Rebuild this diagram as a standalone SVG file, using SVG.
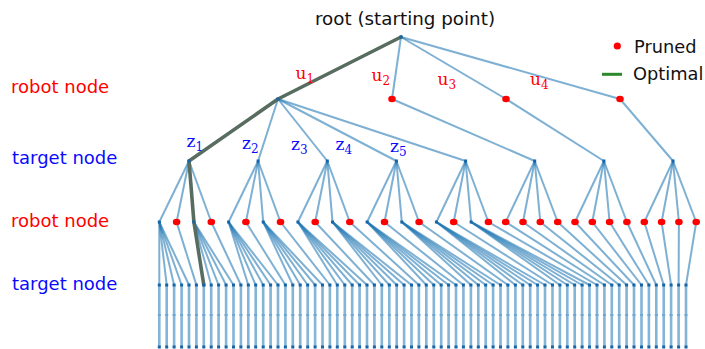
<svg xmlns="http://www.w3.org/2000/svg" xmlns:xlink="http://www.w3.org/1999/xlink" width="705" height="349" viewBox="0 0 705 349">
<style>
.e{stroke:#1f77b4;stroke-opacity:0.58;stroke-width:2;fill:none}
.v{stroke:#1f77b4;stroke-opacity:0.55;stroke-width:2.6;fill:none}
.opt{stroke:#586d60;stroke-width:3.6;fill:none;stroke-linejoin:round;stroke-linecap:round}
.lbl{font-family:"DejaVu Sans","Verdana",sans-serif;font-size:18px}
.math{font-family:"DejaVu Serif","Liberation Serif",serif;font-size:17px}
.sub{font-size:12px}
.red{fill:#ff0000}
.blue{fill:#0a0aff}
</style>
<defs>
<rect id="nb" x="-1.5" y="-1.5" width="3" height="3" fill="#1565a8"/>
<rect id="nm" x="-1.5" y="-1" width="3" height="2" fill="#6ea6d4"/>
<ellipse id="np" rx="3.8" ry="3.3" fill="#ff0000"/>
<g id="col"><use xlink:href="#nb" y="285"/><use xlink:href="#nm" y="315"/><use xlink:href="#nb" y="347"/></g>
</defs>
<g id="connectors">
<path class="e" d="M401 37L278 99"/><path class="e" d="M401 37L392 99"/><path class="e" d="M401 37L506 99"/><path class="e" d="M401 37L620 99"/>
<path class="e" d="M278 99L189 161"/><path class="e" d="M278 99L258.1 161"/><path class="e" d="M278 99L327.3 161"/><path class="e" d="M278 99L396.4 161"/><path class="e" d="M278 99L465.6 161"/>
<path class="e" d="M392 99L534.7 161"/><path class="e" d="M506 99L603.9 161"/><path class="e" d="M620 99L673 161"/>
<path class="e" d="M189 161L159.3 222"/><path class="e" d="M189 161L176.6 222"/><path class="e" d="M189 161L193.9 222"/><path class="e" d="M189 161L211.3 222"/>
<path class="e" d="M258.1 161L228.6 222"/><path class="e" d="M258.1 161L245.9 222"/><path class="e" d="M258.1 161L263.2 222"/><path class="e" d="M258.1 161L280.5 222"/>
<path class="e" d="M327.3 161L297.9 222"/><path class="e" d="M327.3 161L315.2 222"/><path class="e" d="M327.3 161L332.5 222"/><path class="e" d="M327.3 161L349.8 222"/>
<path class="e" d="M396.4 161L367.1 222"/><path class="e" d="M396.4 161L384.5 222"/><path class="e" d="M396.4 161L401.8 222"/><path class="e" d="M396.4 161L419.1 222"/>
<path class="e" d="M465.6 161L436.4 222"/><path class="e" d="M465.6 161L453.7 222"/><path class="e" d="M465.6 161L471.1 222"/><path class="e" d="M465.6 161L488.4 222"/>
<path class="e" d="M534.7 161L505.7 222"/><path class="e" d="M534.7 161L523 222"/><path class="e" d="M534.7 161L540.3 222"/><path class="e" d="M534.7 161L557.7 222"/>
<path class="e" d="M603.9 161L575 222"/><path class="e" d="M603.9 161L592.3 222"/><path class="e" d="M603.9 161L609.6 222"/><path class="e" d="M603.9 161L626.9 222"/>
<path class="e" d="M673 161L644.3 222"/><path class="e" d="M673 161L661.6 222"/><path class="e" d="M673 161L678.9 222"/><path class="e" d="M673 161L696.2 222"/>
<path class="e" d="M159.3 222L159.3 285"/><path class="e" d="M159.3 222L166.7 285"/><path class="e" d="M159.3 222L174.1 285"/><path class="e" d="M159.3 222L181.6 285"/><path class="e" d="M159.3 222L189 285"/>
<path class="e" d="M176.6 222L196.4 285"/>
<path class="e" d="M193.9 222L203.8 285"/><path class="e" d="M193.9 222L211.2 285"/><path class="e" d="M193.9 222L218.6 285"/><path class="e" d="M193.9 222L226.1 285"/><path class="e" d="M193.9 222L233.5 285"/>
<path class="e" d="M211.3 222L240.9 285"/>
<path class="e" d="M228.6 222L248.3 285"/><path class="e" d="M228.6 222L255.7 285"/><path class="e" d="M228.6 222L263.2 285"/><path class="e" d="M228.6 222L270.6 285"/><path class="e" d="M228.6 222L278 285"/>
<path class="e" d="M245.9 222L285.4 285"/>
<path class="e" d="M263.2 222L292.8 285"/><path class="e" d="M263.2 222L300.2 285"/><path class="e" d="M263.2 222L307.7 285"/><path class="e" d="M263.2 222L315.1 285"/><path class="e" d="M263.2 222L322.5 285"/>
<path class="e" d="M280.5 222L329.9 285"/>
<path class="e" d="M297.9 222L337.3 285"/><path class="e" d="M297.9 222L344.8 285"/><path class="e" d="M297.9 222L352.2 285"/><path class="e" d="M297.9 222L359.6 285"/><path class="e" d="M297.9 222L367 285"/>
<path class="e" d="M315.2 222L374.4 285"/>
<path class="e" d="M332.5 222L381.8 285"/><path class="e" d="M332.5 222L389.3 285"/><path class="e" d="M332.5 222L396.7 285"/><path class="e" d="M332.5 222L404.1 285"/><path class="e" d="M332.5 222L411.5 285"/>
<path class="e" d="M349.8 222L418.9 285"/>
<path class="e" d="M367.1 222L426.3 285"/><path class="e" d="M367.1 222L433.8 285"/><path class="e" d="M367.1 222L441.2 285"/><path class="e" d="M367.1 222L448.6 285"/><path class="e" d="M367.1 222L456 285"/>
<path class="e" d="M384.5 222L463.4 285"/>
<path class="e" d="M401.8 222L470.9 285"/><path class="e" d="M401.8 222L478.3 285"/><path class="e" d="M401.8 222L485.7 285"/><path class="e" d="M401.8 222L493.1 285"/><path class="e" d="M401.8 222L500.5 285"/>
<path class="e" d="M419.1 222L507.9 285"/>
<path class="e" d="M436.4 222L515.4 285"/><path class="e" d="M436.4 222L522.8 285"/><path class="e" d="M436.4 222L530.2 285"/><path class="e" d="M436.4 222L537.6 285"/><path class="e" d="M436.4 222L545 285"/>
<path class="e" d="M453.7 222L552.5 285"/>
<path class="e" d="M471.1 222L559.9 285"/><path class="e" d="M471.1 222L567.3 285"/><path class="e" d="M471.1 222L574.7 285"/><path class="e" d="M471.1 222L582.1 285"/><path class="e" d="M471.1 222L589.5 285"/>
<path class="e" d="M488.4 222L597 285"/>
<path class="e" d="M505.7 222L604.4 285"/><path class="e" d="M523 222L611.8 285"/><path class="e" d="M540.3 222L619.2 285"/><path class="e" d="M557.7 222L626.6 285"/>
<path class="e" d="M575 222L634 285"/><path class="e" d="M592.3 222L641.5 285"/><path class="e" d="M609.6 222L648.9 285"/><path class="e" d="M626.9 222L656.3 285"/>
<path class="e" d="M644.3 222L663.7 285"/><path class="e" d="M661.6 222L671.1 285"/><path class="e" d="M678.9 222L678.6 285"/><path class="e" d="M696.2 222L686 285"/>
<path class="v" d="M159.3 285V347M166.7 285V347M174.1 285V347M181.6 285V347M189 285V347M196.4 285V347M203.8 285V347M211.2 285V347M218.6 285V347M226.1 285V347M233.5 285V347M240.9 285V347M248.3 285V347M255.7 285V347M263.2 285V347M270.6 285V347M278 285V347M285.4 285V347M292.8 285V347M300.2 285V347M307.7 285V347M315.1 285V347M322.5 285V347M329.9 285V347M337.3 285V347M344.8 285V347M352.2 285V347M359.6 285V347M367 285V347M374.4 285V347M381.8 285V347M389.3 285V347M396.7 285V347M404.1 285V347M411.5 285V347M418.9 285V347M426.3 285V347M433.8 285V347M441.2 285V347M448.6 285V347M456 285V347M463.4 285V347M470.9 285V347M478.3 285V347M485.7 285V347M493.1 285V347M500.5 285V347M507.9 285V347M515.4 285V347M522.8 285V347M530.2 285V347M537.6 285V347M545 285V347M552.5 285V347M559.9 285V347M567.3 285V347M574.7 285V347M582.1 285V347M589.5 285V347M597 285V347M604.4 285V347M611.8 285V347M619.2 285V347M626.6 285V347M634 285V347M641.5 285V347M648.9 285V347M656.3 285V347M663.7 285V347M671.1 285V347M678.6 285V347M686 285V347"/>
<polyline id="optimal-path" class="opt" points="401,37 278,99 189,161 193.9,222 203.8,285"/>
</g>
<g id="nodes">
<g id="root"><use xlink:href="#nb" x="401" y="37"/></g>
<g id="u1"><use xlink:href="#nb" x="278" y="99"/></g>
<g id="u2"><use xlink:href="#np" x="392" y="99"/></g>
<g id="u3"><use xlink:href="#np" x="506" y="99"/></g>
<g id="u4"><use xlink:href="#np" x="620" y="99"/></g>
<g id="z1"><use xlink:href="#nb" x="189" y="161"/></g>
<g id="z2"><use xlink:href="#nb" x="258.1" y="161"/></g>
<g id="z3"><use xlink:href="#nb" x="327.3" y="161"/></g>
<g id="z4"><use xlink:href="#nb" x="396.4" y="161"/></g>
<g id="z5"><use xlink:href="#nb" x="465.6" y="161"/></g>
<g id="z6"><use xlink:href="#nb" x="534.7" y="161"/></g>
<g id="z7"><use xlink:href="#nb" x="603.9" y="161"/></g>
<g id="z8"><use xlink:href="#nb" x="673" y="161"/></g>
<g id="r0"><use xlink:href="#nb" x="159.3" y="222"/></g>
<g id="r1"><use xlink:href="#np" x="176.6" y="222"/></g>
<g id="r2"><use xlink:href="#nb" x="193.9" y="222"/></g>
<g id="r3"><use xlink:href="#np" x="211.3" y="222"/></g>
<g id="r4"><use xlink:href="#nb" x="228.6" y="222"/></g>
<g id="r5"><use xlink:href="#np" x="245.9" y="222"/></g>
<g id="r6"><use xlink:href="#nb" x="263.2" y="222"/></g>
<g id="r7"><use xlink:href="#np" x="280.5" y="222"/></g>
<g id="r8"><use xlink:href="#nb" x="297.9" y="222"/></g>
<g id="r9"><use xlink:href="#np" x="315.2" y="222"/></g>
<g id="r10"><use xlink:href="#nb" x="332.5" y="222"/></g>
<g id="r11"><use xlink:href="#np" x="349.8" y="222"/></g>
<g id="r12"><use xlink:href="#nb" x="367.1" y="222"/></g>
<g id="r13"><use xlink:href="#np" x="384.5" y="222"/></g>
<g id="r14"><use xlink:href="#nb" x="401.8" y="222"/></g>
<g id="r15"><use xlink:href="#np" x="419.1" y="222"/></g>
<g id="r16"><use xlink:href="#nb" x="436.4" y="222"/></g>
<g id="r17"><use xlink:href="#np" x="453.7" y="222"/></g>
<g id="r18"><use xlink:href="#nb" x="471.1" y="222"/></g>
<g id="r19"><use xlink:href="#np" x="488.4" y="222"/></g>
<g id="r20"><use xlink:href="#np" x="505.7" y="222"/></g>
<g id="r21"><use xlink:href="#np" x="523" y="222"/></g>
<g id="r22"><use xlink:href="#np" x="540.3" y="222"/></g>
<g id="r23"><use xlink:href="#np" x="557.7" y="222"/></g>
<g id="r24"><use xlink:href="#np" x="575" y="222"/></g>
<g id="r25"><use xlink:href="#np" x="592.3" y="222"/></g>
<g id="r26"><use xlink:href="#np" x="609.6" y="222"/></g>
<g id="r27"><use xlink:href="#np" x="626.9" y="222"/></g>
<g id="r28"><use xlink:href="#np" x="644.3" y="222"/></g>
<g id="r29"><use xlink:href="#np" x="661.6" y="222"/></g>
<g id="r30"><use xlink:href="#np" x="678.9" y="222"/></g>
<g id="r31"><use xlink:href="#np" x="696.2" y="222"/></g>
<g id="leaves">
<use id="t0" xlink:href="#col" x="159.3"/><use id="t1" xlink:href="#col" x="166.7"/><use id="t2" xlink:href="#col" x="174.1"/><use id="t3" xlink:href="#col" x="181.6"/><use id="t4" xlink:href="#col" x="189"/><use id="t5" xlink:href="#col" x="196.4"/><use id="t6" xlink:href="#col" x="203.8"/><use id="t7" xlink:href="#col" x="211.2"/><use id="t8" xlink:href="#col" x="218.6"/><use id="t9" xlink:href="#col" x="226.1"/><use id="t10" xlink:href="#col" x="233.5"/><use id="t11" xlink:href="#col" x="240.9"/>
<use id="t12" xlink:href="#col" x="248.3"/><use id="t13" xlink:href="#col" x="255.7"/><use id="t14" xlink:href="#col" x="263.2"/><use id="t15" xlink:href="#col" x="270.6"/><use id="t16" xlink:href="#col" x="278"/><use id="t17" xlink:href="#col" x="285.4"/><use id="t18" xlink:href="#col" x="292.8"/><use id="t19" xlink:href="#col" x="300.2"/><use id="t20" xlink:href="#col" x="307.7"/><use id="t21" xlink:href="#col" x="315.1"/><use id="t22" xlink:href="#col" x="322.5"/><use id="t23" xlink:href="#col" x="329.9"/>
<use id="t24" xlink:href="#col" x="337.3"/><use id="t25" xlink:href="#col" x="344.8"/><use id="t26" xlink:href="#col" x="352.2"/><use id="t27" xlink:href="#col" x="359.6"/><use id="t28" xlink:href="#col" x="367"/><use id="t29" xlink:href="#col" x="374.4"/><use id="t30" xlink:href="#col" x="381.8"/><use id="t31" xlink:href="#col" x="389.3"/><use id="t32" xlink:href="#col" x="396.7"/><use id="t33" xlink:href="#col" x="404.1"/><use id="t34" xlink:href="#col" x="411.5"/><use id="t35" xlink:href="#col" x="418.9"/>
<use id="t36" xlink:href="#col" x="426.3"/><use id="t37" xlink:href="#col" x="433.8"/><use id="t38" xlink:href="#col" x="441.2"/><use id="t39" xlink:href="#col" x="448.6"/><use id="t40" xlink:href="#col" x="456"/><use id="t41" xlink:href="#col" x="463.4"/><use id="t42" xlink:href="#col" x="470.9"/><use id="t43" xlink:href="#col" x="478.3"/><use id="t44" xlink:href="#col" x="485.7"/><use id="t45" xlink:href="#col" x="493.1"/><use id="t46" xlink:href="#col" x="500.5"/><use id="t47" xlink:href="#col" x="507.9"/>
<use id="t48" xlink:href="#col" x="515.4"/><use id="t49" xlink:href="#col" x="522.8"/><use id="t50" xlink:href="#col" x="530.2"/><use id="t51" xlink:href="#col" x="537.6"/><use id="t52" xlink:href="#col" x="545"/><use id="t53" xlink:href="#col" x="552.5"/><use id="t54" xlink:href="#col" x="559.9"/><use id="t55" xlink:href="#col" x="567.3"/><use id="t56" xlink:href="#col" x="574.7"/><use id="t57" xlink:href="#col" x="582.1"/><use id="t58" xlink:href="#col" x="589.5"/><use id="t59" xlink:href="#col" x="597"/>
<use id="t60" xlink:href="#col" x="604.4"/><use id="t61" xlink:href="#col" x="611.8"/><use id="t62" xlink:href="#col" x="619.2"/><use id="t63" xlink:href="#col" x="626.6"/><use id="t64" xlink:href="#col" x="634"/><use id="t65" xlink:href="#col" x="641.5"/><use id="t66" xlink:href="#col" x="648.9"/><use id="t67" xlink:href="#col" x="656.3"/><use id="t68" xlink:href="#col" x="663.7"/><use id="t69" xlink:href="#col" x="671.1"/><use id="t70" xlink:href="#col" x="678.6"/><use id="t71" xlink:href="#col" x="686"/>
</g>
</g>
<g id="labels">
<text class="lbl" x="315" y="25" fill="#111" style="font-size:18.3px">root (starting point)</text>
<text class="lbl red" x="11" y="93">robot node</text>
<text class="lbl blue" x="12" y="164">target node</text>
<text class="lbl red" x="11" y="227">robot node</text>
<text class="lbl blue" x="12" y="290">target node</text>
<text class="math red" x="295.5" y="79">u<tspan class="sub" dy="4">1</tspan></text>
<text class="math red" x="371.5" y="81">u<tspan class="sub" dy="4">2</tspan></text>
<text class="math red" x="437.5" y="85">u<tspan class="sub" dy="4">3</tspan></text>
<text class="math red" x="530" y="85">u<tspan class="sub" dy="4">4</tspan></text>
<text class="math blue" x="186.5" y="147">z<tspan class="sub" dy="4">1</tspan></text>
<text class="math blue" x="242" y="149">z<tspan class="sub" dy="4">2</tspan></text>
<text class="math blue" x="291" y="150">z<tspan class="sub" dy="4">3</tspan></text>
<text class="math blue" x="335.5" y="150">z<tspan class="sub" dy="4">4</tspan></text>
<text class="math blue" x="390" y="152">z<tspan class="sub" dy="4">5</tspan></text>
</g>
<g id="legend">
<circle cx="617.3" cy="46" r="3.6" fill="#ff0000"/>
<text class="lbl" x="634" y="53" fill="#111" style="font-size:17.8px">Pruned</text>
<path d="M602 74.3H622" stroke="#2a8a2a" stroke-width="3"/>
<text class="lbl" x="633" y="80" fill="#111" style="font-size:17.8px">Optimal</text>
</g>
</svg>
